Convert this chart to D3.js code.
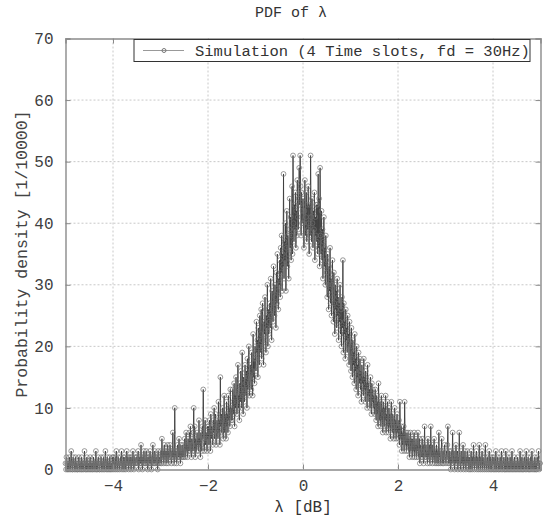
<!DOCTYPE html>
<html>
<head>
<meta charset="utf-8">
<script src="https://cdn.jsdelivr.net/npm/d3@7"></script>
<style>
  body { margin: 0; background: #fff; }
  text { font-family: "Liberation Mono", "DejaVu Sans Mono", monospace; }
</style>
</head>
<body>
<svg id="chart" width="546" height="517"></svg>
<script>
// histogram of lambda, bins of 0.01 dB starting at -5 dB, counts per 10000
var binStart = -5;
var binStep = 0.01;
var counts = [
  // -5.00 .. -4.51
  1,0,2,1,0,1,1,0,2,1, 0,1,3,1,0,0,2,1,1,0, 1,2,0,1,1,0,0,1,2,1, 0,1,1,0,2,0,1,1,0,1, 3,1,0,1,0,2,1,0,1,1,
  // -4.50 .. -4.01
  0,1,2,0,1,1,0,1,0,2, 1,1,0,1,3,0,1,0,1,2, 1,0,0,1,1,2,0,1,1,0, 2,1,0,1,3,1,0,1,2,0, 1,1,0,2,1,0,1,1,0,2,
  // -4.00 .. -3.51
  1,2,0,1,1,2,0,3,1,1, 0,2,1,1,0,1,2,1,3,0, 1,1,2,0,1,2,1,0,1,3, 1,2,1,0,2,1,1,2,0,1, 2,1,3,1,0,1,2,1,1,2,
  // -3.50 .. -3.01
  2,1,1,3,0,2,1,2,1,4, 1,2,0,2,1,3,2,1,1,2, 3,1,2,0,1,2,2,1,3,1, 2,0,1,2,4,1,2,1,3,2, 1,2,2,1,0,3,1,2,2,1,
  // -3.00 .. -2.51
  2,3,1,5,2,2,3,1,4,2, 3,2,1,3,2,4,1,3,2,2, 4,3,2,1,3,2,6,2,3,1, 10,2,3,3,1,2,4,3,2,5, 2,3,1,4,2,3,2,4,3,2,
  // -2.50 .. -2.01
  3,5,2,4,6,3,4,2,5,3, 4,6,3,7,4,2,5,4,3,6, 10,3,7,2,5,4,3,6,4,5, 3,8,4,5,2,6,4,3,7,5, 13,6,3,5,8,4,6,5,3,7,
  // -2.00 .. -1.51
  5,7,4,8,6,3,9,5,7,6, 4,8,6,10,5,7,9,4,6,8, 7,5,11,6,8,4,15,7,9,6, 8,10,5,7,12,6,9,8,5,11, 7,9,6,12,8,10,7,13,9,8,
  // -1.50 .. -1.01
  10,8,13,11,9,14,7,12,10,15, 11,9,13,17,10,12,8,14,11,16, 13,10,19,12,9,15,13,11,17,14, 12,16,10,18,13,15,20,12,14,17, 15,13,19,16,12,22,15,18,14,20,
  // -1.00 .. -0.51
  18,16,24,19,21,15,23,20,17,25, 19,22,26,18,21,27,20,17,24,22, 28,21,19,25,23,30,20,26,22,24, 27,23,31,25,21,29,26,24,33,27, 25,30,28,23,32,27,35,29,26,31,
  // -0.50 .. -0.01
  30,34,28,36,32,38,29,35,33,48, 31,37,34,40,29,36,42,33,38,35, 31,39,44,36,41,34,38,46,35,51, 40,37,43,39,45,36,42,38,47,41, 39,44,49,43,51,46,38,45,40,42,
  // 0.00 .. 0.49
  44,40,36,42,47,38,41,45,37,43, 39,46,40,35,43,38,51,41,37,44, 40,36,42,39,45,34,41,38,43,37, 43,35,48,36,44,33,49,38,35,42, 34,39,31,37,41,33,36,30,38,34,
  // 0.50 .. 0.99
  32,28,35,30,26,33,29,36,27,31, 25,30,34,28,24,32,27,22,30,26, 29,23,31,25,28,21,27,24,30,22, 26,20,28,23,34,19,27,22,24,18, 26,21,23,19,25,20,22,17,24,21,
  // 1.00 .. 1.49
  20,16,23,18,15,21,17,19,14,22, 16,18,13,20,15,17,12,19,16,14, 18,13,16,11,17,14,15,12,18,13, 15,11,16,13,14,10,17,12,14,11, 13,10,15,12,9,14,11,13,10,12,
  // 1.50 .. 1.99
  11,9,13,10,8,12,9,11,7,14, 10,8,11,9,7,12,8,10,6,11, 9,7,10,8,12,6,9,7,11,8, 6,10,7,9,5,8,11,7,6,9, 8,5,7,10,6,8,5,7,9,6,
  // 2.00 .. 2.49
  7,5,8,4,11,6,5,7,3,6, 4,5,7,3,11,5,4,6,3,5, 4,6,3,5,2,4,6,3,5,4, 2,5,3,4,6,2,4,3,5,2, 4,3,6,2,3,5,1,4,3,2,
  // 2.50 .. 2.99
  3,5,2,4,1,3,7,2,3,4, 2,3,1,5,2,3,4,1,2,7, 3,2,4,1,3,2,5,2,1,3, 2,4,1,3,2,1,6,2,3,1, 2,3,5,1,2,3,1,2,4,2,
  // 3.00 .. 3.49
  2,1,3,2,4,7,1,2,3,1, 2,0,3,1,2,6,1,2,3,0, 2,1,4,2,1,3,0,2,1,6, 2,1,0,3,1,2,1,4,0,2, 1,3,1,0,2,1,3,1,2,0,
  // 3.50 .. 3.99
  1,2,0,1,3,1,0,2,1,4, 1,0,2,1,1,3,0,1,2,1, 0,4,1,2,0,1,1,3,0,2, 1,1,0,2,4,1,0,1,2,1, 0,1,3,1,0,2,1,0,1,2,
  // 4.00 .. 4.49
  1,0,2,1,0,1,3,0,1,1, 2,0,1,0,1,2,1,0,3,1, 0,1,1,2,0,1,0,3,1,0, 1,2,0,1,1,0,2,1,0,1, 3,0,1,1,0,2,1,0,1,1,
  // 4.50 .. 4.99
  0,1,2,0,1,1,0,3,1,0, 1,2,0,1,0,1,2,1,0,1, 3,0,1,1,2,0,1,0,1,2, 0,1,3,1,0,1,1,0,2,1, 0,1,0,2,1,1,3,0,1,1
];
var xTicks = [-4, -2, 0, 2, 4];
var yTicks = [0, 10, 20, 30, 40, 50, 60, 70];
var titleText = "PDF of λ";
var xLabel = "λ [dB]";
var yLabel = "Probability density [1/10000]";
var legendLabel = "Simulation (4 Time slots, fd = 30Hz)";

var svg = d3.select("#chart");
var padL = 65.5, padR = 540.5, padT = 38.5, padB = 469.5;

var x = d3.scaleLinear().domain([-5, 5]).range([padL, padR]);
var y = d3.scaleLinear().domain([0, 70]).range([padB, padT]);

var points = counts.map((v, i) => ({lam: binStart + i * binStep, v: v}));

//grid
var grid = svg.append("g");
grid.selectAll(".gx").data(xTicks).enter().append("line")
    .attr("x1", d => x(d)).attr("x2", d => x(d))
    .attr("y1", padT).attr("y2", padB)
    .attr("stroke", "#c8c8c8").attr("stroke-dasharray", "2,2");
grid.selectAll(".gy").data(yTicks.slice(1, -1)).enter().append("line")
    .attr("x1", padL).attr("x2", padR)
    .attr("y1", d => y(d)).attr("y2", d => y(d))
    .attr("stroke", "#c8c8c8").attr("stroke-dasharray", "2,2");

//data
var line = d3.line().x(d => x(d.lam)).y(d => y(d.v));
svg.append("path")
    .datum(points)
    .attr("d", line)
    .attr("fill", "none")
    .attr("stroke", "#3c3c3c")
    .attr("stroke-width", 0.9);

svg.append("g").selectAll("circle")
    .data(points)
    .enter().append("circle")
    .attr("cx", d => x(d.lam))
    .attr("cy", d => y(d.v))
    .attr("r", 2.4)
    .attr("fill", "none")
    .attr("stroke", "#707070")
    .attr("stroke-width", 0.7);

//axes with mirrored inward ticks
var axisColor = "#8a8a8a";
var tickLen = 5;
var xAxis = svg.append("g")
    .attr("transform", "translate(0," + padB + ")")
    .call(d3.axisBottom(x).tickValues(xTicks).tickSize(-tickLen).tickPadding(10).tickFormat(d => d < 0 ? "\u2212" + Math.abs(d) : d));
var yAxis = svg.append("g")
    .attr("transform", "translate(" + padL + ",0)")
    .call(d3.axisLeft(y).tickValues(yTicks).tickSize(-tickLen).tickPadding(12));
var xTop = svg.append("g")
    .attr("transform", "translate(0," + padT + ")")
    .call(d3.axisTop(x).tickValues(xTicks).tickSize(-tickLen).tickFormat(""));
var yRight = svg.append("g")
    .attr("transform", "translate(" + padR + ",0)")
    .call(d3.axisRight(y).tickValues(yTicks).tickSize(-tickLen).tickFormat(""));

[xAxis, yAxis, xTop, yRight].forEach(a => {
    a.select(".domain").attr("stroke", axisColor).attr("stroke-width", 1.4);
    a.selectAll(".tick line").attr("stroke", axisColor);
    a.selectAll("text")
        .attr("fill", "#404040")
        .style("font-size", "16px")
        .style("font-family", "'Liberation Mono', monospace");
});

//titles
svg.append("text")
    .attr("x", 291).attr("y", 17)
    .attr("text-anchor", "middle")
    .attr("fill", "#333")
    .style("font-size", "15px")
    .text(titleText);
svg.append("text")
    .attr("x", 303).attr("y", 512)
    .attr("text-anchor", "middle")
    .attr("fill", "#333")
    .style("font-size", "16px")
    .text(xLabel);
svg.append("text")
    .attr("transform", "translate(27," + ((padT + padB) / 2) + ") rotate(-90)")
    .attr("text-anchor", "middle")
    .attr("fill", "#444")
    .style("font-size", "16.5px")
    .text(yLabel);

//legend
var lg = svg.append("g");
lg.append("rect")
    .attr("x", 134).attr("y", 39.5)
    .attr("width", 396).attr("height", 22)
    .attr("fill", "#fff")
    .attr("stroke", "#333")
    .attr("stroke-width", 1);
lg.append("line")
    .attr("x1", 143).attr("x2", 184)
    .attr("y1", 50.5).attr("y2", 50.5)
    .attr("stroke", "#999");
lg.append("circle")
    .attr("cx", 164).attr("cy", 50.5).attr("r", 2)
    .attr("fill", "none").attr("stroke", "#777");
lg.append("text")
    .attr("x", 195).attr("y", 55.5)
    .attr("fill", "#333")
    .style("font-size", "15.5px")
    .text(legendLabel);
</script>
</body>
</html>
